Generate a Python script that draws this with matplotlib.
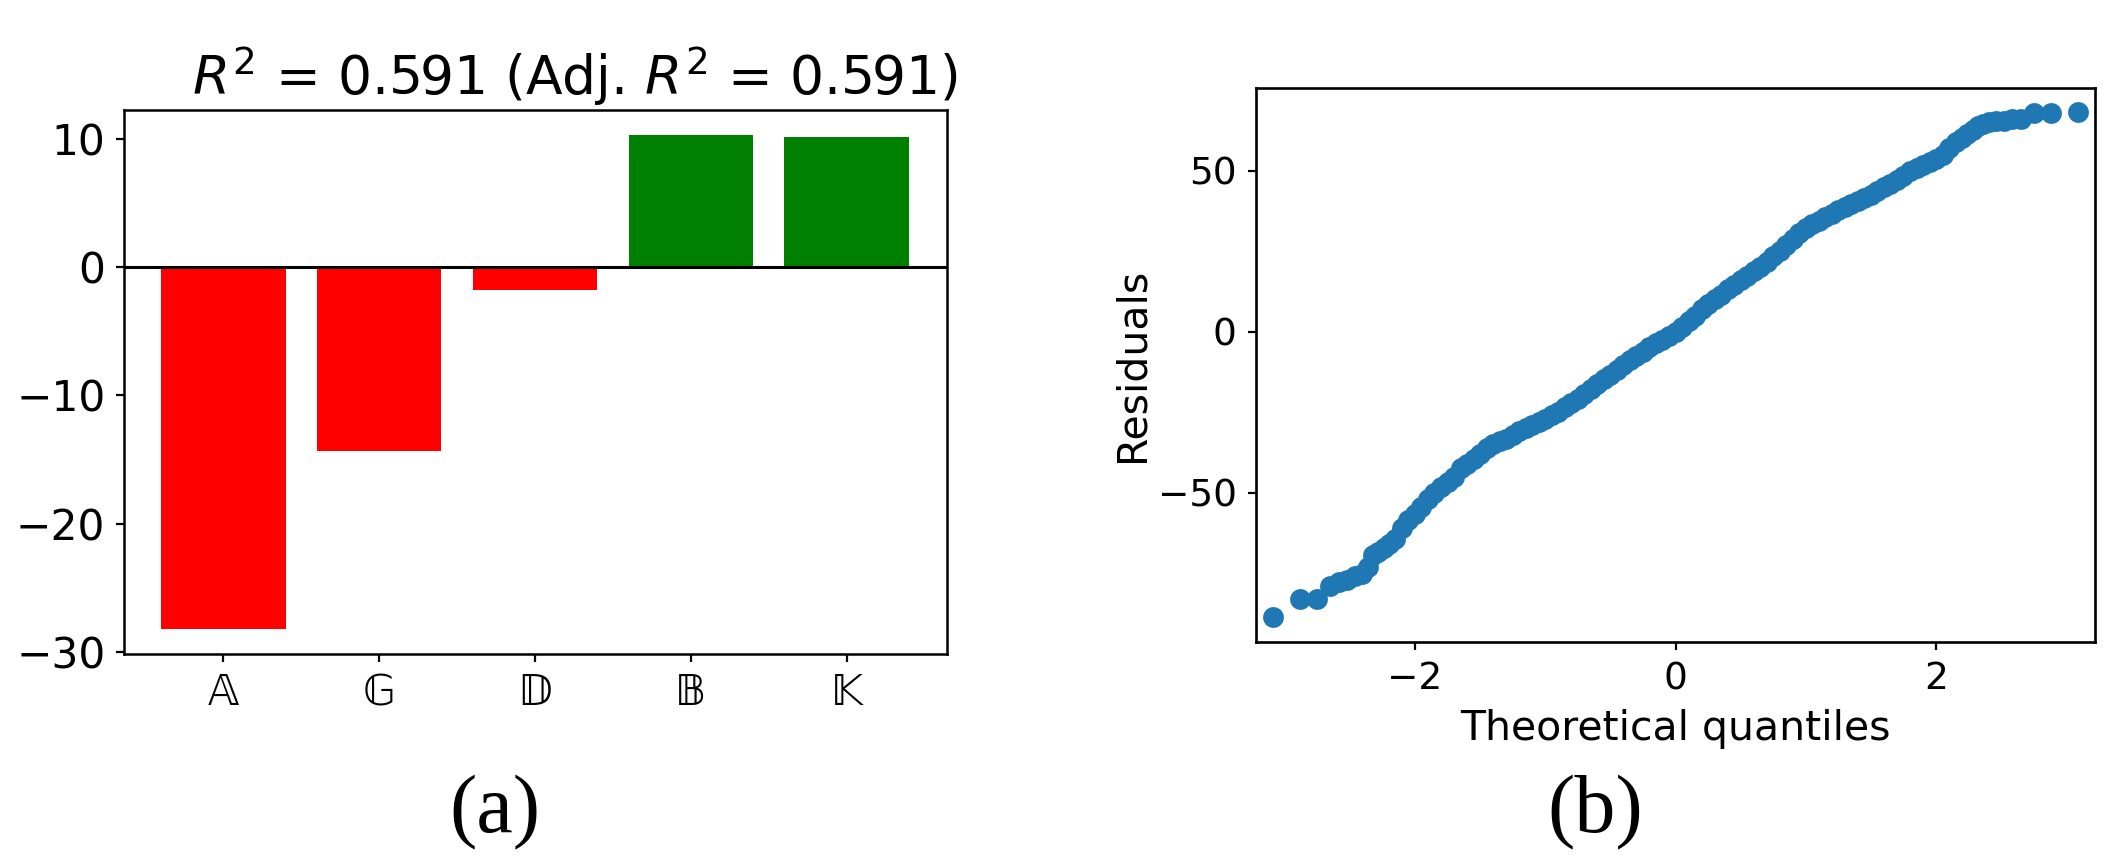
import matplotlib
matplotlib.use("Agg")
import matplotlib.pyplot as plt

# panel (a): coefficients per category
categories = ["\U0001D538", "\U0001D53E", "\U0001D53B", "\U0001D539", "\U0001D542"]
coef = [-28.2, -14.3, -1.8, 10.3, 10.1]
title_a = r"$R^2$ = 0.591 (Adj. $R^2$ = 0.591)"

# panel (b): QQ plot of residuals
theo_q = [-3.09, -2.88, -2.75, -2.65, -2.58, -2.52, -2.46, -2.41, -2.36, -2.32,
          -2.28, -2.24, -2.20, -2.15, -2.10, -2.05, -2.00, -1.95, -1.90, -1.85,
          -1.80, -1.75, -1.70, -1.65, -1.60, -1.55, -1.50, -1.45, -1.40, -1.35,
          -1.30, -1.25, -1.20, -1.15, -1.10, -1.05, -1.00, -0.95, -0.90, -0.85,
          -0.80, -0.75, -0.70, -0.65, -0.60, -0.55, -0.50, -0.45, -0.40, -0.35,
          -0.30, -0.25, -0.20, -0.15, -0.10, -0.05, 0.00, 0.05, 0.10, 0.15,
          0.20, 0.25, 0.30, 0.35, 0.40, 0.45, 0.50, 0.55, 0.60, 0.65,
          0.70, 0.75, 0.80, 0.85, 0.90, 0.95, 1.00, 1.05, 1.10, 1.15,
          1.20, 1.25, 1.30, 1.35, 1.40, 1.45, 1.50, 1.55, 1.60, 1.65,
          1.70, 1.75, 1.80, 1.85, 1.90, 1.95, 2.00, 2.05, 2.10, 2.15,
          2.20, 2.24, 2.28, 2.32, 2.36, 2.41, 2.46, 2.52, 2.58, 2.65,
          2.75, 2.88, 3.09]
residuals = [-88.7, -83.1, -83.0, -79.0, -77.8, -77.0, -76.0, -75.2, -73.0, -69.5,
             -68.5, -67.2, -66.0, -64.5, -61.0, -58.5, -56.5, -54.5, -52.0, -50.0,
             -48.3, -46.8, -45.0, -42.5, -41.0, -39.5, -38.0, -36.0, -35.0, -34.0,
             -33.2, -32.0, -30.8, -30.0, -29.0, -28.0, -27.0, -26.0, -24.8, -23.5,
             -22.0, -20.8, -19.5, -17.8, -16.2, -14.8, -13.5, -11.8, -10.2, -8.8,
             -7.5, -6.2, -4.8, -3.6, -2.5, -1.2, 0.0, 1.5, 3.2, 5.0,
             7.0, 8.6, 10.0, 11.5, 13.2, 14.6, 16.0, 17.4, 18.8, 20.2,
             21.8, 23.4, 25.0, 26.8, 28.8, 30.8, 32.2, 33.4, 34.5, 35.6,
             36.6, 37.8, 38.8, 39.8, 40.7, 41.6, 42.6, 43.8, 44.8, 46.0,
             47.2, 48.4, 50.0, 51.0, 51.8, 52.6, 53.6, 55.0, 57.0, 58.8,
             60.2, 61.5, 62.8, 63.8, 64.5, 65.0, 65.3, 65.6, 66.0, 66.0,
             67.8, 67.9, 68.3]


def plot_bars(ax):
    colors = ["red" if v < 0 else "green" for v in coef]
    ax.bar(range(len(coef)), coef, color=colors, width=0.8)
    ax.axhline(0, color="black", lw=2.2)
    ax.set_xticks(range(len(coef)))
    ax.set_xticklabels(categories, family=["DejaVu Sans"])
    ax.tick_params(labelsize=30.5, length=6, width=1.6, pad=7)
    for s in ax.spines.values():
        s.set_linewidth(1.8)


def plot_qq(ax):
    ax.plot(theo_q, residuals, "o", color="#1f77b4", markersize=15,
            markeredgewidth=0)
    ax.set_xlim(-3.22, 3.22)
    ax.set_ylim(-96.4, 75.7)
    ax.set_xticks([-2, 0, 2])
    ax.set_yticks([-50, 0, 50])
    ax.set_xlabel("Theoretical quantiles", fontsize=29.5, labelpad=8)
    ax.set_ylabel("Residuals", fontsize=29.5, labelpad=4)
    ax.tick_params(labelsize=27, length=6, width=1.6, pad=8)
    for s in ax.spines.values():
        s.set_linewidth(1.9)


def main():
    W, H = 2127, 867
    fig = plt.figure(figsize=(W / 100, H / 100), dpi=100)

    ax1 = fig.add_axes([123.5 / W, 1 - 654 / H, 823 / W, 544 / H])
    plot_bars(ax1)
    fig.text(575 / W, 1 - 95 / H, title_a, fontsize=38.5, ha="center", va="baseline")

    ax2 = fig.add_axes([1256 / W, 1 - 642 / H, 839 / W, 554 / H])
    plot_qq(ax2)

    fig.text(495 / W, 1 - 832 / H, "(a)", fontsize=59, family="Liberation Serif",
             ha="center", va="baseline")
    fig.text(1595 / W, 1 - 832 / H, "(b)", fontsize=59, family="Liberation Serif",
             ha="center", va="baseline")

    fig.savefig("out.png", dpi=100)


if __name__ == "__main__":
    main()
